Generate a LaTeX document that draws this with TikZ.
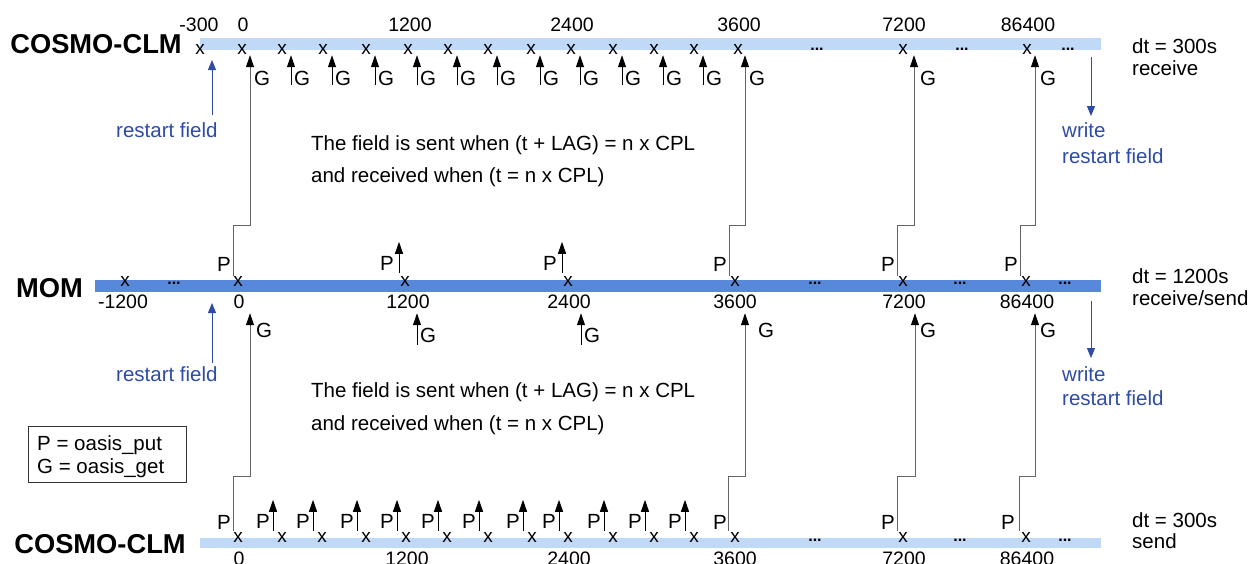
\documentclass[tikz,border=0pt]{standalone}
\usepackage{fontspec}
\setmainfont{Liberation Sans}
\usetikzlibrary{arrows.meta,calc}
\definecolor{barlight}{RGB}{192,217,246}
\definecolor{barmom}{RGB}{88,136,218}
\definecolor{bluetxt}{RGB}{46,76,166}
\definecolor{linegray}{RGB}{100,100,100}
\begin{document}
\begin{tikzpicture}[x=1pt,y=-1pt,
  txt/.style={font=\fontsize{20.5}{24}\selectfont,inner sep=0pt},
  num/.style={font=\fontsize{19.5}{23}\selectfont,inner sep=0pt},
  xmk/.style={font=\fontsize{19}{22}\selectfont,inner sep=0pt},
  dotsty/.style={font=\fontsize{16}{18}\selectfont\bfseries,inner sep=0pt,anchor=base},
  model/.style={font=\fontsize{27.3}{30}\selectfont\bfseries,inner sep=0pt},
  bluetext/.style={txt,text=bluetxt,anchor=base west},
  shortarr/.style={draw=black,line width=1pt,-{Triangle[length=12pt,width=8pt]}},
  longarr/.style={draw=linegray,line width=0.9pt,-{Triangle[length=12pt,width=8pt,color=black]}},
  bluearr/.style={draw=bluetxt,line width=1pt,-{Triangle[length=10pt,width=8pt]}},
]
\useasboundingbox (0,0) rectangle (1250,563);
\fill[white] (0,0) rectangle (1250,563);

% bars
\fill[barlight] (200,38) rectangle (1101,50);
\fill[barmom] (95,280) rectangle (1101,292);
\fill[barlight] (200,538) rectangle (1101,548);

% model names
\node[model] (cosmoTop) at (96,44.5) {COSMO-CLM};
\node[model] (mom) at (49.5,288) {MOM};
\node[model] (cosmoBot) at (100,544) {COSMO-CLM};

% ---------- top row ----------
\foreach \n/\x in {0/200,1/242,2/282,3/323,4/366,5/408,6/448,7/488,8/531,9/571,10/613,11/654,12/694,13/738,14/903,15/1027}
  \node[xmk] (c\n) at (\x,49.5) {x};
\foreach \t/\x in {-300/199,0/243,1200/410,2400/572,3600/739,7200/904,86400/1028}
  \node[num] (tl\x) at (\x,25) {\t};
\foreach \n in {2,...,12} {
  \draw[shortarr] ($(c\n.south)+(9,30.5)$) coordinate (cgb\n) -- ($(c\n.south)+(9,0.5)$);
  \node[txt] (cg\n) at ($(c\n.south)+(20,23.5)$) {G};
}
\node[txt] (cgl1) at (262,78) {G};
\node[txt] (cgl2) at (757,78) {G};
\node[txt] (cgl3) at (928,78) {G};
\node[txt] (cgl4) at (1048,78) {G};

% ---------- MOM row ----------
\foreach \n/\x in {0/125,1/238,2/405,3/568,4/735,5/903,6/1026}
  \node[xmk] (m\n) at (\x,281.5) {x};
\foreach \t/\x in {-1200/123,0/239,1200/408,2400/569,3600/735,7200/904,86400/1027}
  \node[num] (ml\x) at (\x,302) {\t};
\foreach \n in {2,3} {
  \draw[shortarr] ($(m\n.north)+(-6,-3.5)$) -- ($(m\n.north)+(-6,-34.5)$);
  \node[txt] (mp\n) at ($(m\n.north)+(-18,-12.5)$) {P};
}
\node[txt] (mpl1) at (224,264) {P};
\node[txt] (mpl2) at (720,264) {P};
\node[txt] (mpl3) at (888,264) {P};
\node[txt] (mpl4) at (1011,264) {P};
% short G below MOM
\draw[shortarr] ($(m2.south)+(12,58.5)$) -- ($(m2.south)+(12,26.5)$);
\node[txt] (mg2) at (428,335) {G};
\draw[shortarr] ($(m3.south)+(13,58.5)$) -- ($(m3.south)+(13,26.5)$);
\node[txt] (mg3) at (592,335) {G};
\node[txt] (mgl1) at (264,330) {G};
\node[txt] (mgl2) at (766,330) {G};
\node[txt] (mgl3) at (928,330) {G};
\node[txt] (mgl4) at (1048,330) {G};

% long connectors MOM -> top
\draw[longarr] ($(m1.north)+(-5,0)$) -- ++(0,-51) -| ($(c1.south)+(8,0.5)$);
\draw[longarr] ($(m4.north)+(-6,0)$) -- ++(0,-51) -| ($(c13.south)+(7,0.5)$);
\draw[longarr] ($(m5.north)+(-6,0)$) -- ++(0,-51) -| ($(c14.south)+(11,0.5)$);
\draw[longarr] ($(m6.north)+(-6,0)$) -- ++(0,-51) -| ($(c15.south)+(8,0.5)$);

% ---------- bottom row ----------
\foreach \n/\x in {1/238,2/282,3/322,4/366,5/406,6/447,7/488,8/532,9/568,10/613,11/654,12/694,13/735,14/903,15/1026}
  \node[xmk] (b\n) at (\x,537) {x};
\foreach \t/\x in {0/239,1200/407,2400/569,3600/735,7200/904,86400/1027}
  \node[num] (bl\x) at (\x,559) {\t};
\foreach \n in {2,...,12} {
  \draw[shortarr] ($(b\n.north)+(-9,-1)$) -- ($(b\n.north)+(-9,-32)$);
  \node[txt] (bp\n) at ($(b\n.north)+(-19,-10)$) {P};
}
\node[txt] (bpl1) at (224,522) {P};
\node[txt] (bpl2) at (720,522) {P};
\node[txt] (bpl3) at (888,522) {P};
\node[txt] (bpl4) at (1008,522) {P};

% long connectors bottom -> MOM
\draw[longarr] ($(b1.north)+(-5,-1)$) -- ++(0,-54) -| ($(m1.south)+(12,26.5)$);
\draw[longarr] ($(b13.north)+(-7,-1)$) -- ++(0,-54) -| ($(m4.south)+(10,26.5)$);
\draw[longarr] ($(b14.north)+(-6,-1)$) -- ++(0,-54) -| ($(m5.south)+(12,26.5)$);
\draw[longarr] ($(b15.north)+(-7,-1)$) -- ++(0,-54) -| ($(m6.south)+(9,26.5)$);

% dots
\foreach \x/\y in {817/50,962/50,1068/50,174/284,815/284,960/284,1065/284,815/541,960/541,1065/541}
  \node[dotsty] (d\x-\y) at (\x,\y) {...};

% right labels
\node[txt,anchor=base west] (dt1) at (1132,53) {dt = 300s};
\node[txt,anchor=base west] (rc1) at (1132,75) {receive};
\node[txt,anchor=base west] (dt2) at (1132,283) {dt = 1200s};
\node[txt,anchor=base west] (rc2) at (1132,305) {receive/send};
\node[txt,anchor=base west] (dt3) at (1132,527) {dt = 300s};
\node[txt,anchor=base west] (rc3) at (1132,548) {send};

% restart labels
\node[bluetext] (rf1) at (116,137) {restart field};
\coordinate (rfa1) at (212,115); \coordinate (rft1) at (212,60);
\draw[bluearr] (rfa1) -- (rft1);
\node[bluetext] (rf2) at (116,381) {restart field};
\coordinate (rfa2) at (212,363); \coordinate (rft2) at (212,303);
\draw[bluearr] (rfa2) -- (rft2);
\node[bluetext] (wr1) at (1062,137) {write};
\node[bluetext] (wr1b) at (1062,163) {restart field};
\coordinate (wra1) at (1091,57); \coordinate (wrt1) at (1091,116);
\draw[bluearr] (wra1) -- (wrt1);
\node[bluetext] (wr2) at (1062,381) {write};
\node[bluetext] (wr2b) at (1062,405) {restart field};
\coordinate (wra2) at (1091,301); \coordinate (wrt2) at (1091,358);
\draw[bluearr] (wra2) -- (wrt2);

% central text
\node[txt,anchor=base west] (s1) at (311,150) {The field is sent when (t + LAG) = n x CPL};
\node[txt,anchor=base west] (r1) at (311,182) {and received when (t = n x CPL)};
\node[txt,anchor=base west] (s2) at (311,397) {The field is sent when (t + LAG) = n x CPL};
\node[txt,anchor=base west] (r2) at (311,430) {and received when (t = n x CPL)};

% legend
\node[draw=black!80,line width=0.8pt,minimum width=158pt,minimum height=56pt,anchor=north west,inner sep=0pt] (leg) at (28,426) {};
\node[txt,anchor=base west] (lp) at (37,450) {P = oasis\_put};
\node[txt,anchor=base west] (lg) at (37,473) {G = oasis\_get};
\end{tikzpicture}
\end{document}
